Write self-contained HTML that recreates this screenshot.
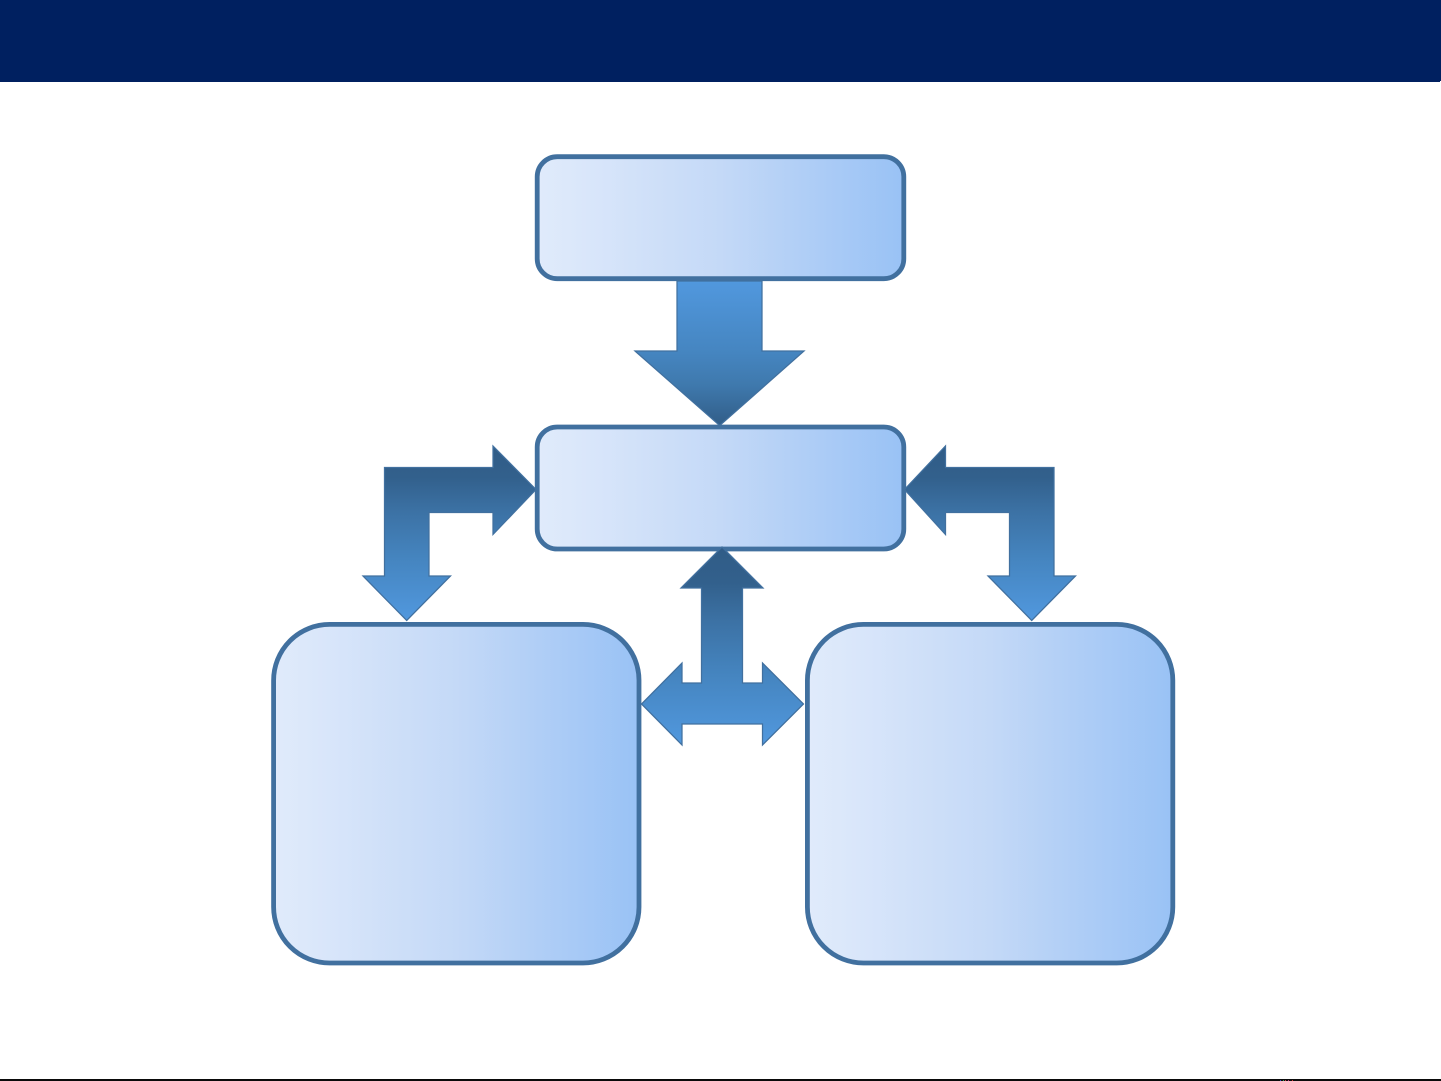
<!DOCTYPE html>
<html lang="en">
<head>
<meta charset="utf-8">
<title>Diagram</title>
<style>
html,body{margin:0;padding:0;background:#fff;width:1441px;height:1081px;overflow:hidden}
svg{display:block}
</style>
</head>
<body>
<svg width="1441" height="1081" viewBox="0 0 1441 1081" xmlns="http://www.w3.org/2000/svg">
<defs>
<linearGradient id="box" x1="0" y1="0" x2="1" y2="0">
<stop offset="0" stop-color="#e0ebfb"/>
<stop offset="0.14" stop-color="#d9e6fa"/>
<stop offset="0.5" stop-color="#c4d9f7"/>
<stop offset="0.75" stop-color="#aecdf6"/>
<stop offset="1" stop-color="#99c2f5"/>
</linearGradient>
<linearGradient id="dn" x1="0" y1="0" x2="0" y2="1">
<stop offset="0" stop-color="#5198de"/>
<stop offset="0.5" stop-color="#4585c0"/>
<stop offset="0.72" stop-color="#3f79ad"/>
<stop offset="1" stop-color="#315d88"/>
</linearGradient>
<linearGradient id="up" x1="0" y1="0" x2="0" y2="1">
<stop offset="0" stop-color="#305c87"/>
<stop offset="0.18" stop-color="#32608c"/>
<stop offset="0.38" stop-color="#3c72a5"/>
<stop offset="0.65" stop-color="#4585c0"/>
<stop offset="1" stop-color="#5198de"/>
</linearGradient>
</defs>
<rect x="0" y="0" width="1441" height="82" fill="#002060"/>
<rect x="1440" y="81" width="1" height="1" fill="#fff"/>
<rect x="0" y="1079" width="1441" height="2" fill="#0a0a0a"/>
<g>
<rect x="1280" y="1080" width="1" height="1" fill="#3050c0"/>
<rect x="1283" y="1080" width="1" height="1" fill="#30a060"/>
<rect x="1285" y="1080" width="1" height="1" fill="#c04040"/>
<rect x="1288" y="1080" width="1" height="1" fill="#c03080"/>
<rect x="1292" y="1080" width="1" height="1" fill="#d03030"/>
</g>
<g fill="url(#box)" stroke="#41709f" stroke-width="4.8">
<rect x="537.2" y="156.7" width="366.6" height="122" rx="20" ry="20"/>
<rect x="537.2" y="427" width="366.6" height="122" rx="20" ry="20"/>
<rect x="273.6" y="624.4" width="365.4" height="338.6" rx="56" ry="56"/>
<rect x="807.4" y="624.4" width="365.4" height="338.6" rx="56" ry="56"/>
</g>
<g stroke="#41709f" stroke-width="1.25" stroke-linejoin="miter">
<polygon fill="url(#dn)" points="677,281 762,281 762,351 804,351 719.7,425.5 635,351 677,351"/>
<polygon fill="url(#up)" points="384.5,467.5 493,467.5 493,446 536,489.5 493,534.5 493,512.5 429,512.5 429,576 450.5,576 406.7,620.5 363,576 384.5,576"/>
<polygon fill="url(#up)" points="1054,467.5 945.5,467.5 945.5,446 904.5,489.5 945.5,534.5 945.5,512.5 1009.5,512.5 1009.5,576 988,576 1031.7,620.5 1075.5,576 1054,576"/>
<polygon fill="url(#up)" points="722,547 763,588 742.5,588 742.5,683 762.5,683 762.5,663 803.5,704 762.5,745 762.5,724 682,724 682,745 641.5,704 682,663 682,683 701.5,683 701.5,588 681,588"/>
</g>
</svg>
</body>
</html>
